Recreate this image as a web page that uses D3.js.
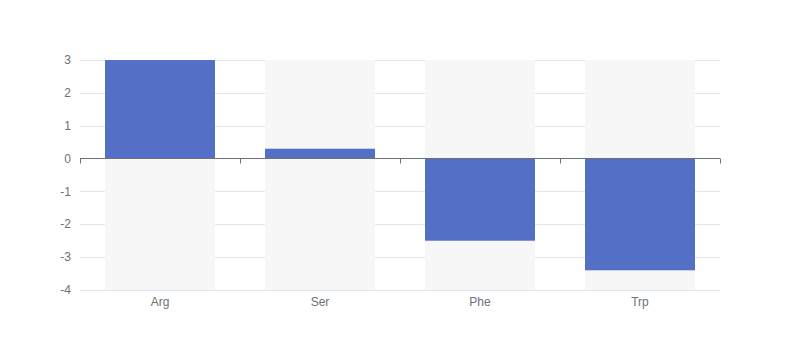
<!DOCTYPE html>
<html><head><meta charset="utf-8">
<script src="https://cdn.jsdelivr.net/npm/d3@7"></script>
<style>body{margin:0;background:#fff}svg{display:block}</style>
</head><body>
<svg id="c" width="800" height="360"></svg>
<script>
const categories = ["Arg","Ser","Phe","Trp"];
const values = [3, 0.3, -2.5, -3.4];
const yTicks = [-4,-3,-2,-1,0,1,2,3];

(function(){
const svg = d3.select("#c");
const mLeft = 80, mRight = 720, mTop = 60, mBottom = 290;
const x = d3.scaleBand().domain(categories).range([mLeft, mRight]).paddingInner(0).paddingOuter(0);
const y = d3.scaleLinear().domain([-4, 3]).range([mBottom, mTop]);
const bw = x.bandwidth() * 0.6875;
const font = "sans-serif";

// grid
svg.append("g").selectAll("line").data(yTicks.filter(d => d !== 0)).join("line")
  .attr("x1", mLeft).attr("x2", mRight)
  .attr("y1", d => Math.round(y(d)) + 0.5).attr("y2", d => Math.round(y(d)) + 0.5)
  .attr("stroke", "#e0e6f1").attr("stroke-width", 1);

// shadow
svg.append("g").selectAll("rect").data(categories).join("rect")
  .attr("x", d => x(d) + (x.bandwidth() - bw) / 2)
  .attr("width", bw)
  .attr("y", y(3)).attr("height", y(-4) - y(3))
  .attr("fill", "#f7f7f7");

// bars
svg.append("g").selectAll("rect").data(values).join("rect")
  .attr("x", (d, i) => x(categories[i]) + (x.bandwidth() - bw) / 2)
  .attr("width", bw)
  .attr("y", d => y(Math.max(0, d)))
  .attr("height", d => Math.abs(y(d) - y(0)))
  .attr("fill", "#5470c6");

// y labels
svg.append("g").selectAll("text").data(yTicks).join("text")
  .attr("x", mLeft - 9).attr("y", d => y(d)).attr("dy", "0.35em")
  .attr("text-anchor", "end").attr("font-family", font).attr("font-size", 12)
  .attr("fill", "#6e7079").text(d => d);

// x axis at zero
const gx = svg.append("g").attr("transform", `translate(0,${Math.round(y(0)) - 0.5})`);
gx.append("line").attr("x1", mLeft).attr("x2", mRight).attr("stroke", "#6e7079");
const bounds = [mLeft, ...categories.map(c => x(c) + x.bandwidth())];
gx.selectAll("line.t").data(bounds).join("line").attr("class", "t")
  .attr("x1", d => Math.round(d) + 0.5).attr("x2", d => Math.round(d) + 0.5)
  .attr("y1", 0).attr("y2", 5).attr("stroke", "#6e7079");

// category labels at bottom
svg.append("g").selectAll("text").data(categories).join("text")
  .attr("x", d => x(d) + x.bandwidth() / 2).attr("y", mBottom + 16)
  .attr("text-anchor", "middle").attr("font-family", font).attr("font-size", 12)
  .attr("fill", "#6e7079").text(d => d);
})();
</script>
</body></html>
